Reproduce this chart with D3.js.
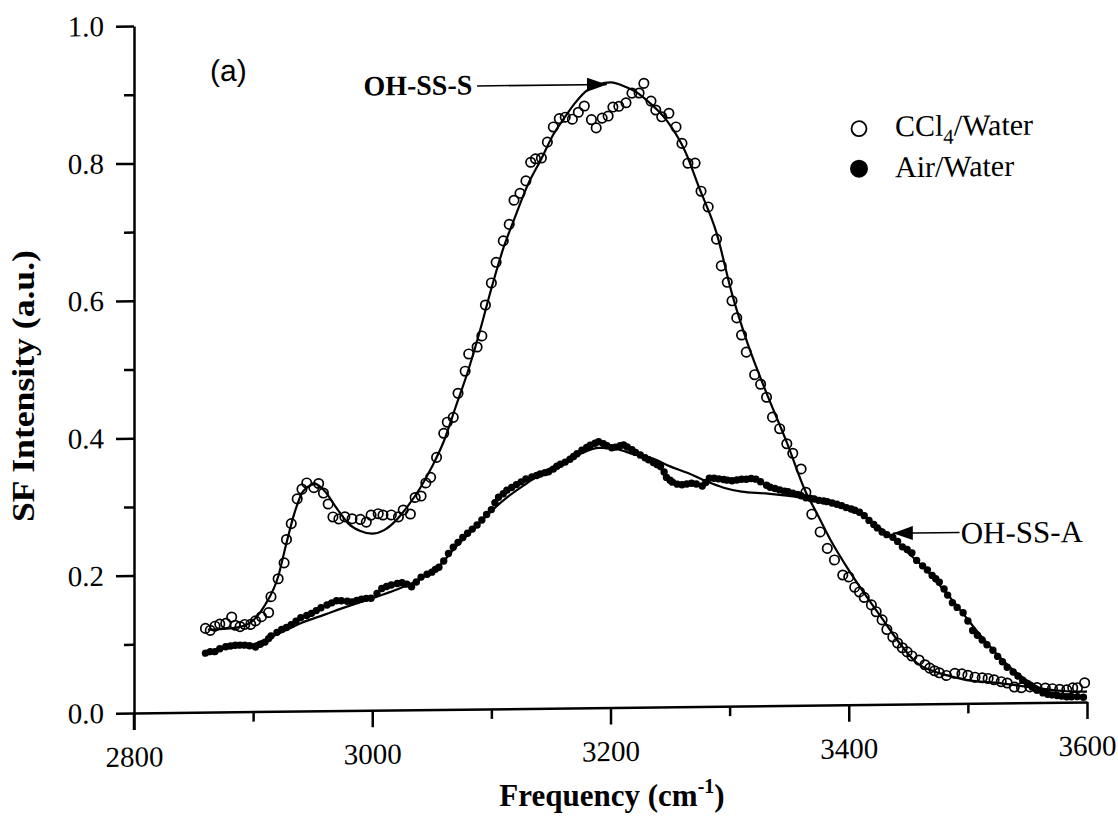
<!DOCTYPE html>
<html><head><meta charset="utf-8">
<script src="https://cdn.jsdelivr.net/npm/d3@7"></script>
<style>
html,body{margin:0;padding:0;background:#fff;}
</style></head>
<body><svg id="chart" width="1118" height="824"></svg>
<script>
// ---------- data ----------
const xTicksMajor = [2800, 3000, 3200, 3400, 3600];
const xTicksMinor = [2900, 3100, 3300, 3500];
const yTicksMajor = [0.0, 0.2, 0.4, 0.6, 0.8, 1.0];
const yTicksMinor = [0.1, 0.3, 0.5, 0.7, 0.9];

const ccl4X = [2860,2864,2868,2872,2877,2882,2885,2889,2893,2898,2902,2907,2913,2915,2921,2926,2928,2932,2937,2941,2945,2951,2955,2959,2963,2967,2972,2977,2983,2990,2995,2999,3005,3009,3016,3022,3026,3032,3036,3041,3045,3049,3054,3060,3063,3068,3072,3078,3081,3088,3092,3095,3100,3104,3110,3115,3119,3124,3129,3133,3137,3142,3147,3152,3157,3162,3168,3173,3178,3184,3188,3193,3198,3202,3207,3213,3218,3224,3228,3234,3238,3243,3249,3255,3260,3265,3271,3276,3282,3289,3293,3298,3302,3306,3310,3314,3321,3326,3331,3336,3342,3348,3353,3360,3364,3369,3376,3382,3388,3395,3400,3405,3409,3413,3419,3423,3428,3432,3437,3441,3445,3449,3453,3459,3464,3468,3472,3476,3482,3489,3495,3500,3506,3512,3517,3522,3528,3533,3539,3545,3552,3558,3565,3571,3577,3583,3588,3592,3598];
const ccl4Y = [.122,.119,.125,.128,.129,.138,.126,.124,.127,.127,.132,.138,.144,.167,.193,.216,.250,.273,.309,.323,.332,.325,.331,.317,.301,.282,.279,.282,.279,.278,.274,.284,.286,.284,.284,.281,.291,.285,.309,.311,.330,.338,.367,.402,.418,.425,.460,.492,.517,.527,.543,.588,.620,.650,.681,.705,.740,.750,.768,.795,.800,.801,.824,.846,.858,.860,.857,.867,.876,.856,.844,.858,.861,.874,.875,.880,.894,.894,.908,.882,.869,.859,.864,.844,.820,.791,.791,.750,.727,.680,.641,.617,.590,.565,.540,.515,.482,.468,.449,.420,.403,.381,.367,.344,.310,.278,.252,.228,.211,.189,.186,.171,.164,.156,.145,.135,.123,.109,.098,.089,.082,.076,.070,.064,.057,.052,.048,.045,.041,.044,.043,.041,.038,.037,.036,.034,.031,.029,.023,.022,.023,.022,.021,.020,.019,.018,.021,.021,.028];

const airX = [2860,2864,2868,2872,2877,2881,2885,2889,2893,2897,2902,2906,2910,2913,2915,2920,2924,2928,2932,2936,2940,2945,2949,2953,2957,2962,2966,2970,2974,2979,2983,2987,2991,2995,2999,3004,3008,3012,3016,3021,3025,3029,3033,3037,3041,3046,3050,3053,3056,3060,3064,3068,3072,3076,3080,3084,3088,3092,3096,3100,3103,3106,3110,3113,3117,3121,3125,3129,3134,3138,3141,3145,3148,3152,3155,3158,3162,3166,3169,3172,3176,3180,3183,3187,3190,3194,3197,3201,3204,3208,3211,3214,3218,3221,3225,3229,3232,3236,3239,3242,3245,3247,3250,3252,3256,3260,3264,3268,3272,3277,3280,3283,3287,3291,3295,3298,3302,3306,3310,3314,3318,3322,3326,3331,3334,3338,3342,3346,3349,3353,3357,3360,3364,3368,3371,3375,3379,3382,3386,3390,3394,3398,3402,3405,3409,3413,3417,3421,3424,3428,3432,3437,3441,3445,3449,3453,3457,3462,3466,3470,3473,3476,3480,3483,3487,3491,3496,3500,3504,3508,3512,3516,3521,3525,3529,3533,3538,3542,3546,3550,3554,3558,3563,3567,3571,3575,3579,3583,3587,3592,3597];
const airY = [.086,.088,.088,.092,.095,.096,.097,.097,.097,.096,.094,.098,.101,.106,.110,.115,.119,.122,.126,.131,.136,.139,.142,.146,.150,.154,.157,.160,.160,.159,.158,.160,.162,.163,.163,.170,.177,.180,.182,.184,.185,.183,.179,.186,.193,.197,.200,.204,.207,.216,.227,.236,.243,.250,.256,.262,.268,.275,.283,.290,.300,.308,.313,.318,.322,.326,.330,.334,.337,.339,.341,.343,.344,.348,.352,.355,.358,.362,.366,.370,.375,.379,.382,.385,.387,.384,.381,.378,.379,.381,.382,.379,.375,.371,.367,.363,.360,.356,.353,.350,.342,.334,.330,.327,.324,.323,.324,.325,.324,.321,.326,.332,.332,.331,.330,.329,.328,.329,.330,.330,.331,.330,.326,.321,.318,.316,.314,.312,.311,.309,.307,.305,.302,.301,.300,.298,.297,.296,.294,.292,.290,.287,.285,.283,.280,.275,.268,.262,.257,.251,.247,.243,.237,.229,.225,.220,.209,.201,.195,.187,.182,.177,.167,.158,.147,.140,.132,.120,.106,.099,.092,.085,.077,.068,.060,.052,.045,.039,.033,.028,.023,.018,.014,.012,.011,.010,.009,.008,.008,.008,.007];

const ccl4FitX = [2862,2875,2887,2898,2910,2921,2928,2935,2942,2952,2960,2970,2980,2990,3000,3010,3020,3030,3040,3050,3060,3070,3080,3090,3100,3110,3120,3130,3142,3152,3162,3170,3179,3190,3200,3213,3222,3230,3247,3263,3274,3289,3302,3315,3331,3348,3364,3373,3386,3400,3415,3430,3443,3457,3470,3485,3499,3527,3554,3583,3600];
const ccl4FitY = [.120,.121,.123,.130,.155,.196,.245,.290,.320,.330,.320,.295,.272,.261,.257,.262,.276,.297,.322,.353,.390,.440,.490,.548,.612,.670,.716,.760,.800,.835,.861,.880,.897,.907,.910,.903,.895,.884,.854,.807,.757,.689,.600,.528,.455,.383,.310,.280,.236,.196,.157,.120,.088,.060,.048,.040,.034,.029,.022,.016,.015];

const airFitX = [2860,2880,2900,2920,2940,2960,2980,3000,3020,3040,3055,3070,3085,3100,3115,3130,3145,3160,3175,3190,3205,3220,3235,3250,3265,3280,3295,3310,3330,3350,3370,3390,3405,3420,3435,3450,3465,3480,3495,3510,3525,3540,3555,3570,3585,3600];
const airFitY = [.088,.093,.098,.112,.128,.140,.152,.163,.175,.190,.207,.236,.262,.288,.310,.328,.345,.358,.370,.378,.376,.368,.362,.350,.340,.328,.318,.312,.309,.305,.300,.292,.283,.265,.245,.220,.195,.165,.133,.100,.070,.045,.026,.014,.009,.007];

const annotations = ["OH-SS-S", "OH-SS-A"];

// ---------- drawing ----------
const SERIF = "'Liberation Serif', 'Times New Roman', serif";
const svg = d3.select("#chart");
const x = d3.scaleLinear().domain([2800, 3600]).range([134, 1087]);
const y = d3.scaleLinear().domain([0, 1]).range([713, 26]);

const defs = svg.append("defs");
defs.append("marker").attr("id","arr").attr("viewBox","0 0 20 14")
  .attr("refX",20).attr("refY",7).attr("markerWidth",20).attr("markerHeight",14)
  .attr("markerUnits","userSpaceOnUse").attr("orient","auto")
  .append("path").attr("d","M0,0 L20,7 L0,14 Z").attr("fill","#000");

// scanned page is slightly tilted
const g = svg.append("g")
  .attr("transform", `translate(134,713) skewY(-0.66) translate(-134,-713)`);

const fs = 29;
// X axis
g.append("g").attr("transform", `translate(0,${y(0)})`)
  .call(d3.axisBottom(x).tickValues(xTicksMajor).tickSize(17).tickSizeOuter(0)
    .tickPadding(16).tickFormat(d3.format("d")));
g.append("g").attr("transform", `translate(0,${y(0)})`)
  .call(d3.axisBottom(x).tickValues(xTicksMinor).tickSize(10).tickSizeOuter(0).tickFormat(""))
  .select(".domain").remove();
// Y axis
g.append("g").attr("transform", `translate(${x(2800)},0)`)
  .call(d3.axisLeft(y).tickValues(yTicksMajor).tickSize(18).tickSizeOuter(0)
    .tickPadding(12).tickFormat(d3.format(".1f")));
g.append("g").attr("transform", `translate(${x(2800)},0)`)
  .call(d3.axisLeft(y).tickValues(yTicksMinor).tickSize(10).tickSizeOuter(0).tickFormat(""))
  .select(".domain").remove();
// y-axis extends below x-axis
g.append("line").attr("x1", x(2800)).attr("x2", x(2800)).attr("y1", y(0)).attr("y2", y(0) + 17)
  .attr("stroke", "#000").attr("stroke-width", 2.5);

g.selectAll(".domain, .tick line").attr("stroke", "#000").attr("stroke-width", 2.5);
g.selectAll(".tick text").style("font-size", fs + "px").style("font-family", SERIF).attr("fill", "#000");

// fit lines
const line = d3.line().x(d => x(d[0])).y(d => y(d[1])).curve(d3.curveMonotoneX);
g.append("path").datum(ccl4FitX.map((v, i) => [v, ccl4FitY[i]]))
  .attr("d", line).attr("fill", "none").attr("stroke", "#000").attr("stroke-width", 2.2);
g.append("path").datum(airFitX.map((v, i) => [v, airFitY[i]]))
  .attr("d", line).attr("fill", "none").attr("stroke", "#000").attr("stroke-width", 2.2);

// air/water filled dots
g.append("g").selectAll("circle").data(airX.map((v, i) => [v, airY[i]])).join("circle")
  .attr("cx", d => x(d[0])).attr("cy", d => y(d[1])).attr("r", 3.7).attr("fill", "#000");
// CCl4 open circles
g.append("g").selectAll("circle").data(ccl4X.map((v, i) => [v, ccl4Y[i]])).join("circle")
  .attr("cx", d => x(d[0])).attr("cy", d => y(d[1])).attr("r", 4.7)
  .attr("fill", "none").attr("stroke", "#000").attr("stroke-width", 1.7);

// panel label
g.append("text").attr("x", 210).attr("y", 82).style("font-size", "30px")
  .style("font-family", "'Liberation Sans', Arial, sans-serif").text("(a)");

// annotations
g.append("text").attr("x", x(3084)).attr("y", y(0.895)).attr("text-anchor", "end")
  .style("font-size", "28px").style("font-family", SERIF).attr("font-weight", "bold").text(annotations[0]);
g.append("line").attr("x1", x(3088)).attr("x2", x(3197)).attr("y1", y(0.907)).attr("y2", y(0.907))
  .attr("stroke", "#000").attr("stroke-width", 1.6).attr("marker-end", "url(#arr)");
g.append("text").attr("x", x(3494)).attr("y", y(0.233))
  .style("font-size", "31px").style("font-family", SERIF).text(annotations[1]);
g.append("line").attr("x1", x(3493)).attr("x2", x(3437)).attr("y1", y(0.249)).attr("y2", y(0.249))
  .attr("stroke", "#000").attr("stroke-width", 1.6).attr("marker-end", "url(#arr)");

// legend
g.append("circle").attr("cx", 859).attr("cy", 137).attr("r", 7.5)
  .attr("fill", "none").attr("stroke", "#000").attr("stroke-width", 1.8);
const t1 = g.append("text").attr("x", 895).attr("y", 145).style("font-size", "30px").style("font-family", SERIF);
t1.append("tspan").text("CCl");
t1.append("tspan").style("font-size", "21px").attr("dy", 8).text("4");
t1.append("tspan").attr("dy", -8).text("/Water");
g.append("circle").attr("cx", 859).attr("cy", 177).attr("r", 9).attr("fill", "#000");
g.append("text").attr("x", 895).attr("y", 186).style("font-size", "30px").style("font-family", SERIF).text("Air/Water");

// axis titles
const xt = svg.append("text").attr("x", 612).attr("y", 806).attr("text-anchor", "middle")
  .style("font-size", "31px").style("font-family", SERIF).attr("font-weight", "bold");
xt.append("tspan").text("Frequency (cm");
xt.append("tspan").style("font-size", "20px").attr("dy", -13).text("-1");
xt.append("tspan").attr("dy", 13).text(")");
svg.append("text").attr("transform", "translate(34,386) rotate(-90) scale(1.15,1)").attr("text-anchor", "middle")
  .style("font-size", "31px").style("font-family", SERIF).attr("font-weight", "bold").text("SF Intensity (a.u.)");
</script></body></html>
